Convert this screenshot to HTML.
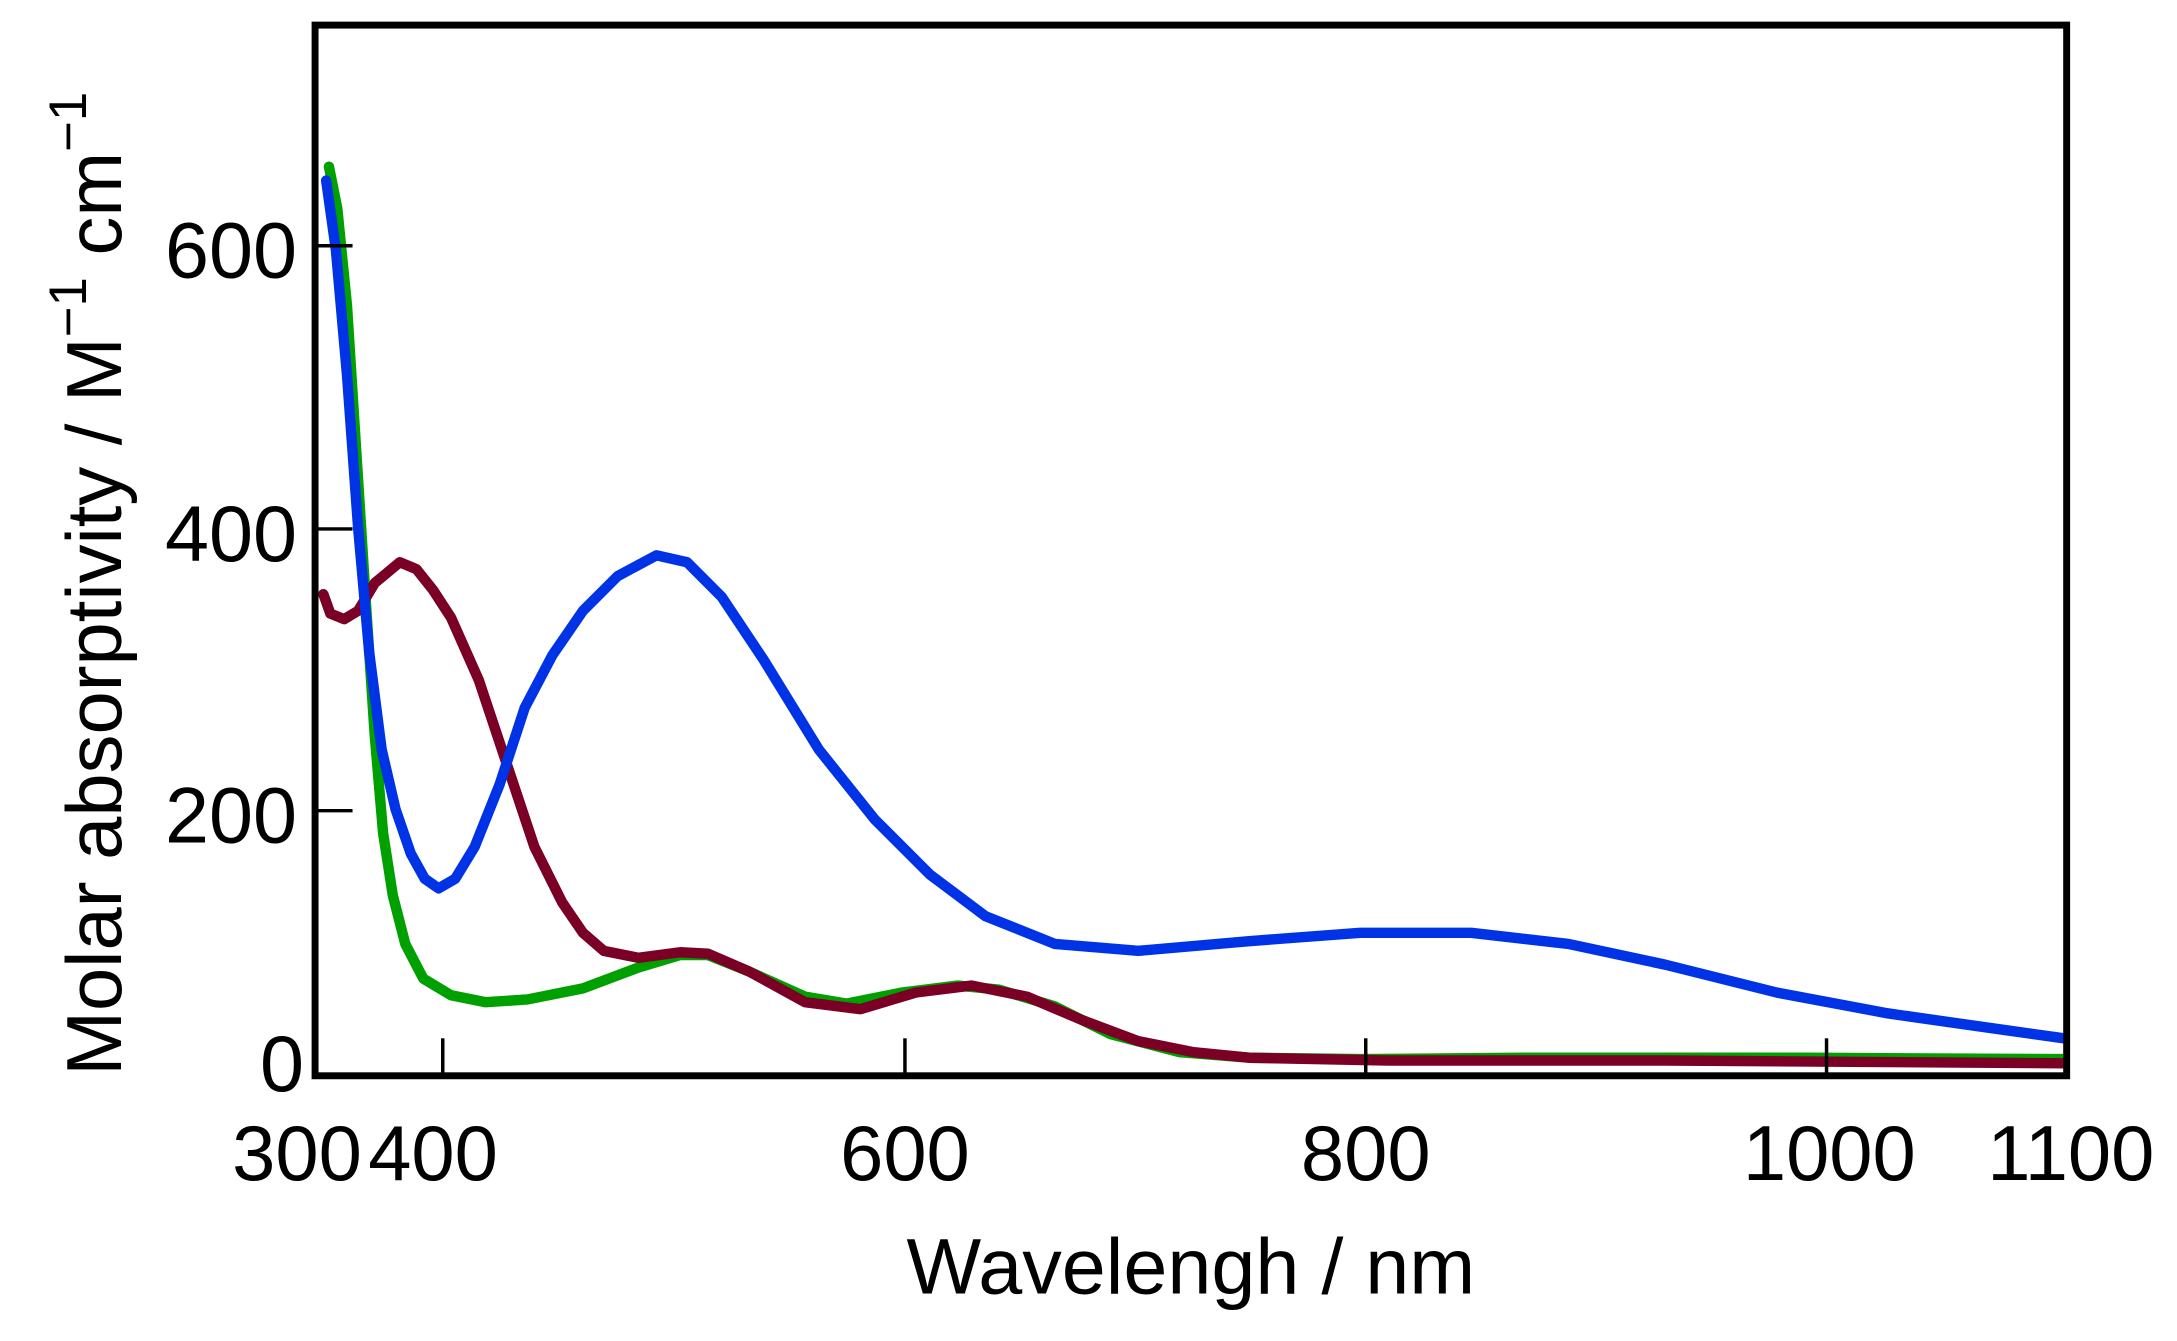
<!DOCTYPE html>
<html><head><meta charset="utf-8"><style>
html,body{margin:0;padding:0;background:#fff;}
svg{display:block;}
text{font-family:"Liberation Sans",Arial,sans-serif;fill:#000;}
</style></head><body>
<svg width="2177" height="1341" viewBox="0 0 1568.5 966" xmlns="http://www.w3.org/2000/svg">
<rect width="1568.5" height="966" fill="#fff"/>
<g fill="none" stroke-linejoin="round" stroke-linecap="round" stroke-width="7.5">
<polyline stroke="#00a000" points="237,120 243,150 250,220 257,330 264,440 270,530 276,600 283,645 292,680 305,705 325,717 350,722 380,720 420,712 460,697 490,688 510,688 540,700 580,718 610,723 650,715 690,710 720,713 760,725 800,745 850,758 900,762 980,763 1100,762 1300,762 1487,763"/>
<polyline stroke="#7a0026" points="233,428 238,442 248,446 258,440 270,420 288,405 300,410 312,425 325,445 345,490 365,550 385,610 405,650 420,672 435,685 460,690 490,686 510,687 540,700 580,722 620,727 660,715 700,710 740,718 780,735 820,750 860,758 900,762 1000,764 1200,764 1487,766"/>
<polyline stroke="#0033e6" points="235,130 242,180 250,270 258,380 266,470 275,540 285,583 296,615 306,633 316,640 328,633 342,610 360,565 378,510 398,472 420,440 445,415 473,400 495,405 520,430 550,475 590,540 630,590 670,630 710,660 760,680 820,685 900,678 980,672 1060,672 1130,680 1200,695 1280,715 1360,730 1430,740 1487,748"/>
</g>
<rect x="227" y="18" width="1262" height="757" fill="none" stroke="#000" stroke-width="5"/>
<g stroke="#000" stroke-width="2.5">
<line x1="227" y1="177" x2="254" y2="177"/>
<line x1="227" y1="381" x2="254" y2="381"/>
<line x1="227" y1="584" x2="254" y2="584"/>
<line x1="319" y1="775" x2="319" y2="748"/>
<line x1="652" y1="775" x2="652" y2="748"/>
<line x1="984" y1="775" x2="984" y2="748"/>
<line x1="1316" y1="775" x2="1316" y2="748"/>
</g>
<g font-size="57" text-anchor="end">
<text x="214" y="200">600</text>
<text x="214" y="404">400</text>
<text x="214" y="607">200</text>
<text x="219" y="786">0</text>
</g>
<g font-size="56" text-anchor="middle">
<text x="214" y="850">300</text>
<text x="312" y="850">400</text>
<text x="652" y="850">600</text>
<text x="984" y="850">800</text>
<text x="1318" y="850">1000</text>
<text x="1492" y="850">1100</text>
<text x="858" y="932" font-size="57">Wavelengh / nm</text>
</g>
<text transform="translate(87,775) rotate(-90)" font-size="56">Molar absorptivity / M<tspan font-size="38" dy="-25">−1</tspan><tspan dy="25"> cm</tspan><tspan font-size="38" dy="-25">−1</tspan></text>
</svg>
</body></html>
